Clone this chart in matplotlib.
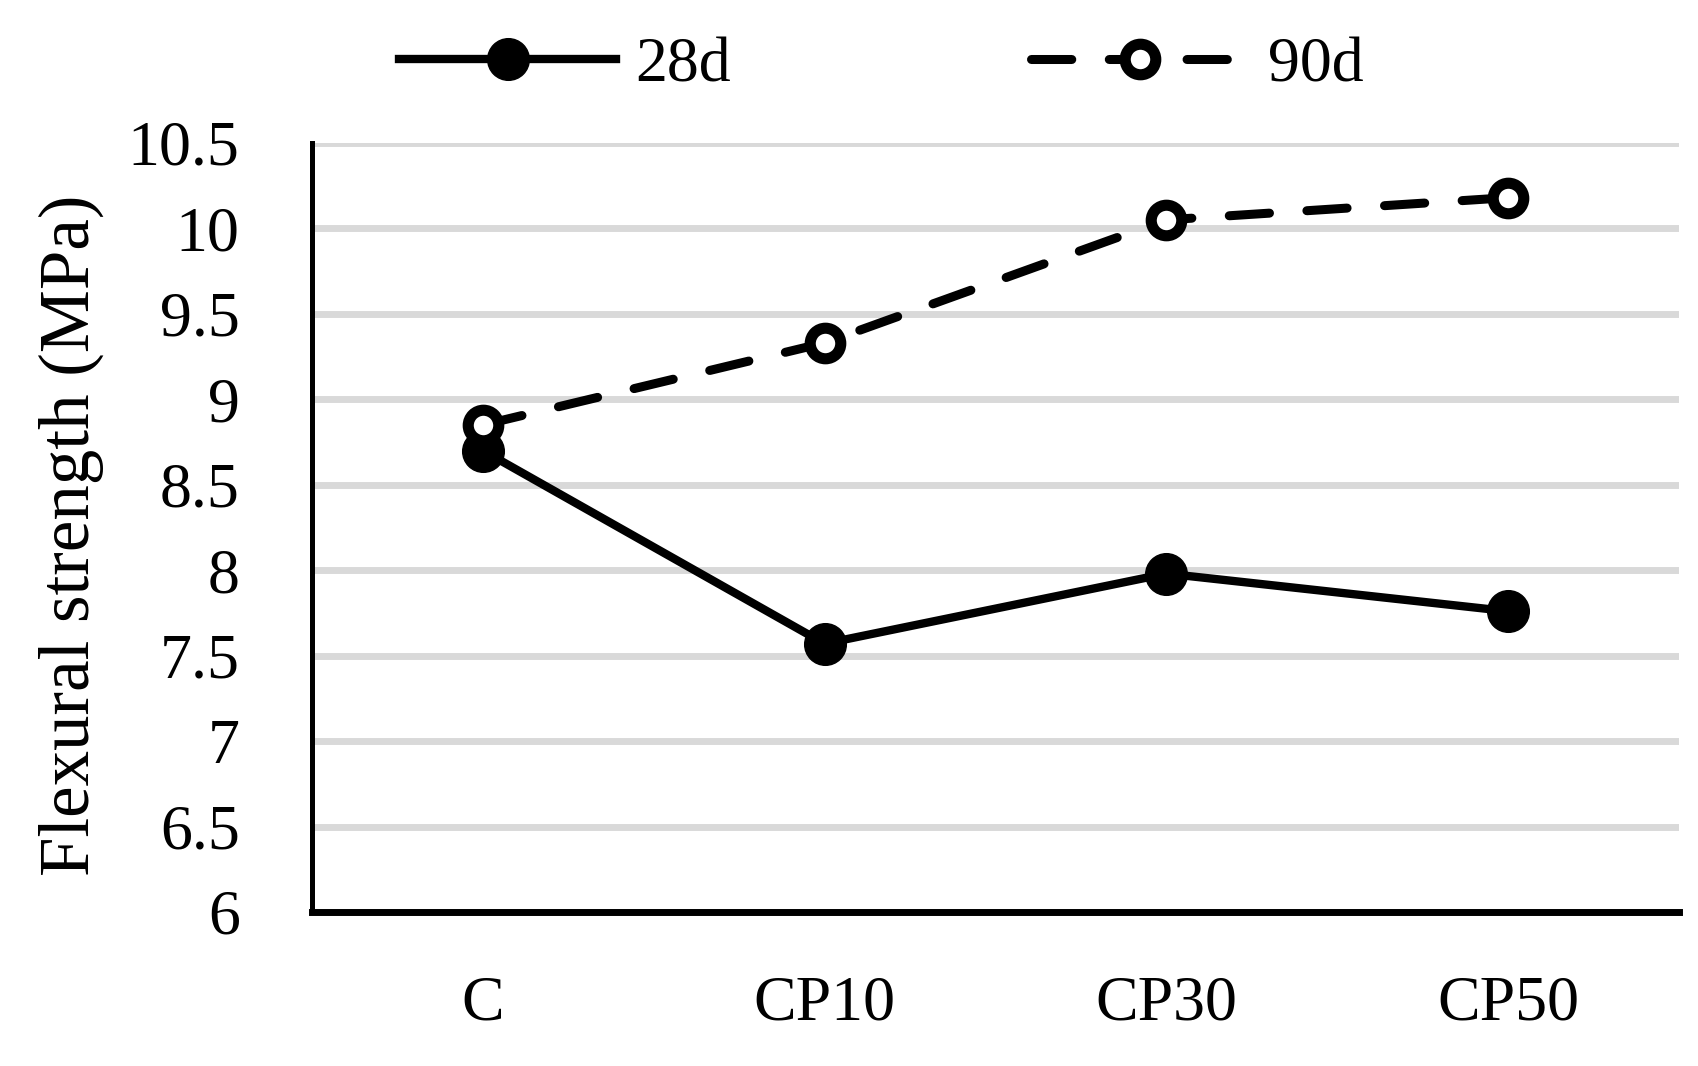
import matplotlib
matplotlib.use("Agg")
import matplotlib.pyplot as plt

plt.rcParams.update({
    'font.family': ['Liberation Serif', 'DejaVu Serif'],
    'font.size': 46,
    'lines.scale_dashes': False,
})

categories = ["C", "CP10", "CP30", "CP50"]
strength_28d = [8.70, 7.57, 7.98, 7.76]
strength_90d = [8.85, 9.33, 10.05, 10.18]
y_ticks = [6, 6.5, 7, 7.5, 8, 8.5, 9, 9.5, 10, 10.5]
y_tick_labels = ["6", "6.5", "7", "7.5", "8", "8.5", "9", "9.5", "10", "10.5"]

fig = plt.figure(figsize=(16.99, 10.66), dpi=100)
ax = fig.add_axes([0.1836, 0.1445, 0.8046, 0.7214])

x = list(range(len(categories)))

ax.plot(x, strength_28d, color="black", linewidth=6, marker="o", markersize=30,
        markerfacecolor="black", markeredgecolor="black", label="28d", zorder=3)
ax.plot(x, strength_90d, color="black", linewidth=6.5, linestyle=(0, (29, 27)),
        dash_capstyle="round", marker="o", markersize=22, markeredgewidth=8,
        markerfacecolor="white", markeredgecolor="black", label="90d", zorder=3)

ax.set_xlim(-0.5, 3.5)
ax.set_ylim(6, 10.5)
ax.set_xticks(x)
ax.set_xticklabels(categories)
ax.set_yticks(y_ticks)
ax.set_yticklabels(y_tick_labels)
ax.tick_params(axis="both", length=0)
ax.tick_params(axis="y", pad=52)
ax.tick_params(axis="x", pad=46)

ax.grid(axis="y", color="#d9d9d9", linewidth=5, zorder=0)
ax.set_axisbelow(True)
for side in ["top", "right"]:
    ax.spines[side].set_visible(False)
ax.spines["left"].set_linewidth(3.6)
ax.spines["bottom"].set_linewidth(5)
ax.spines["bottom"].set_zorder(2.5)

ax.set_ylabel("Flexural strength (MPa)", fontsize=51)
ax.yaxis.set_label_coords(-0.152, 0.49)

fig.legend(loc="center", bbox_to_anchor=(0.5186, 0.938), ncol=2, frameon=False,
           handlelength=3.4, handletextpad=0.3, columnspacing=4.7, borderaxespad=0)

fig.savefig("out.png", dpi=100)
